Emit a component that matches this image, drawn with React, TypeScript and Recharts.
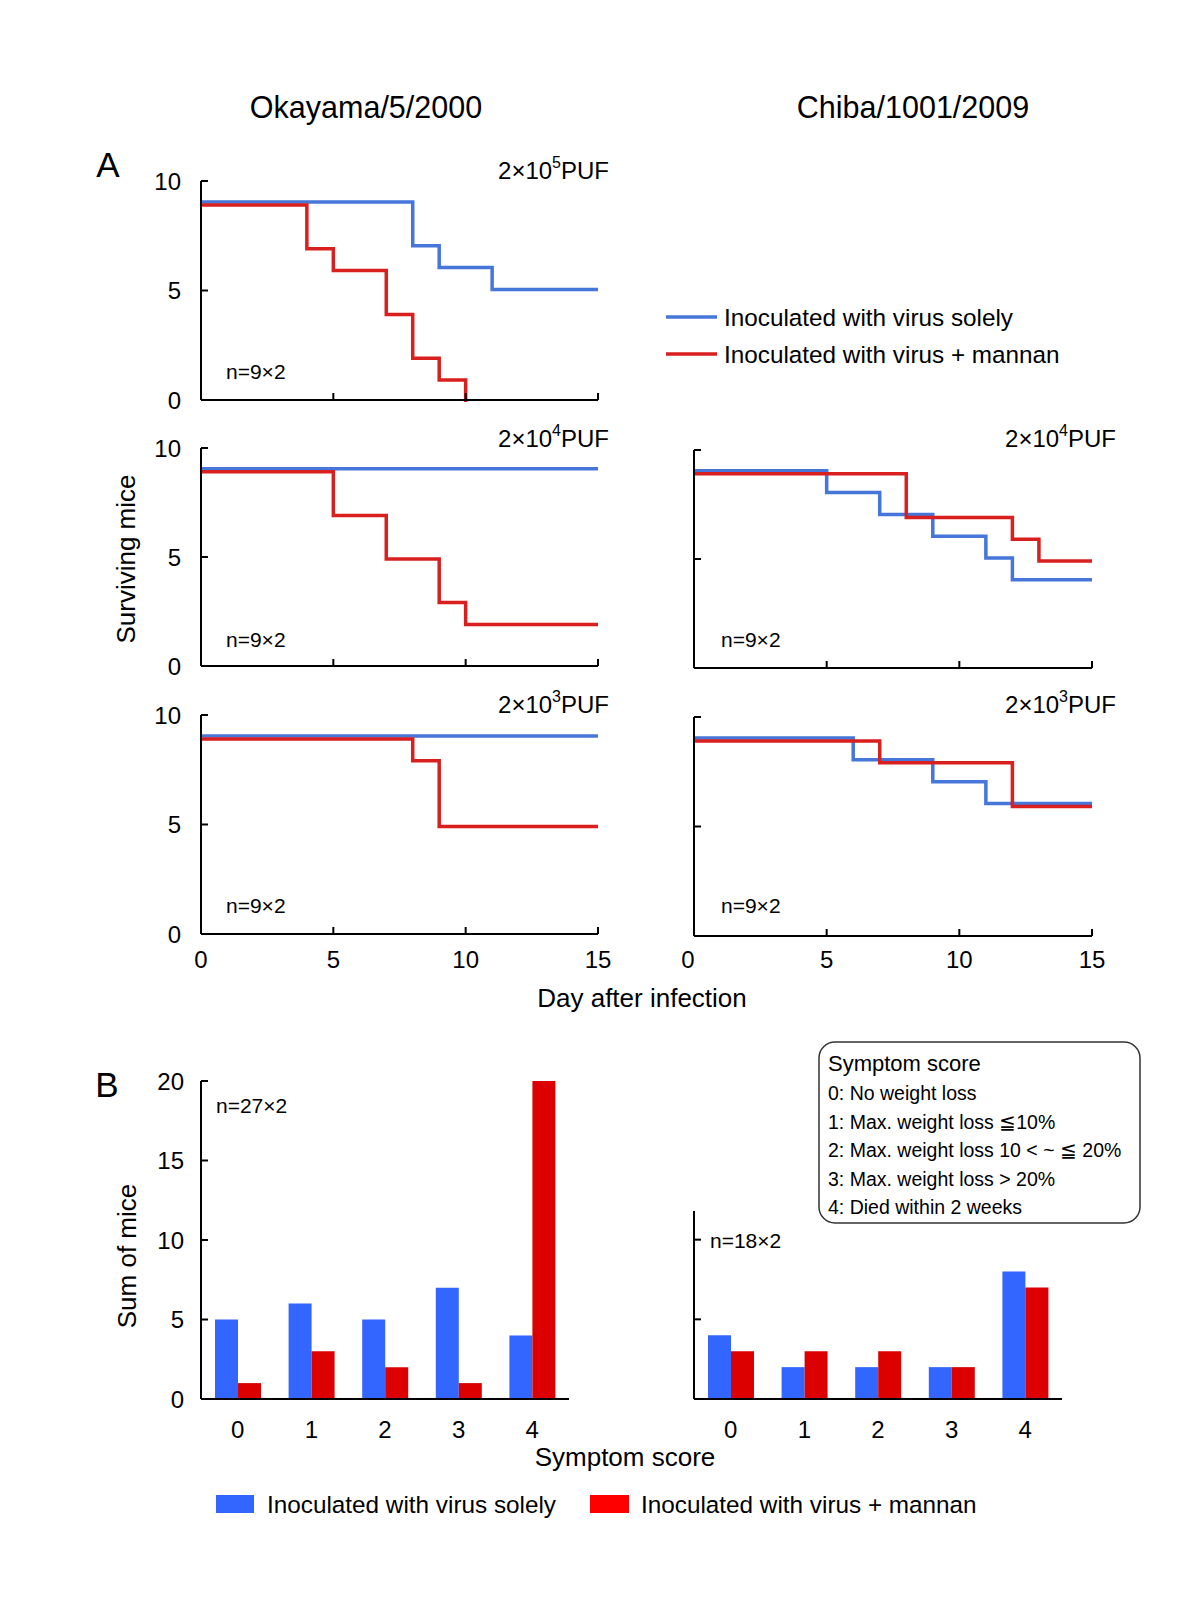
import React from 'react';
import { LineChart, Line, XAxis, YAxis, BarChart, Bar } from 'recharts';

const FONT = '"Liberation Sans", Arial, Helvetica, sans-serif';
const BLUE_LINE = '#4676DA';
const RED_LINE = '#DA1F1F';
const BLUE_BAR = '#3366FF';
const RED_BAR = '#DD0000';
const LEGEND_RED = '#FF0000';

// Day after infection
const days = [0, 1, 2, 3, 4, 5, 6, 7, 8, 9, 10, 11, 12, 13, 14, 15];

// Surviving mice per day — Okayama/5/2000
const okayama5Sole = [9, 9, 9, 9, 9, 9, 9, 9, 7, 6, 6, 5, 5, 5, 5, 5];
const okayama5Mannan = [9, 9, 9, 9, 7, 6, 6, 4, 2, 1, 0, null, null, null, null, null];
const okayama4Sole = [9, 9, 9, 9, 9, 9, 9, 9, 9, 9, 9, 9, 9, 9, 9, 9];
const okayama4Mannan = [9, 9, 9, 9, 9, 7, 7, 5, 5, 3, 2, 2, 2, 2, 2, 2];
const okayama3Sole = [9, 9, 9, 9, 9, 9, 9, 9, 9, 9, 9, 9, 9, 9, 9, 9];
const okayama3Mannan = [9, 9, 9, 9, 9, 9, 9, 9, 8, 5, 5, 5, 5, 5, 5, 5];

// Surviving mice per day — Chiba/1001/2009
const chiba4Sole = [9, 9, 9, 9, 9, 8, 8, 7, 7, 6, 6, 5, 4, 4, 4, 4];
const chiba4Mannan = [9, 9, 9, 9, 9, 9, 9, 9, 7, 7, 7, 7, 6, 5, 5, 5];
const chiba3Sole = [9, 9, 9, 9, 9, 9, 8, 8, 8, 7, 7, 6, 6, 6, 6, 6];
const chiba3Mannan = [9, 9, 9, 9, 9, 9, 9, 8, 8, 8, 8, 8, 6, 6, 6, 6];

// Symptom score bars
const scores = ['0', '1', '2', '3', '4'];
const okayamaSoleBars = [5, 6, 5, 7, 4];
const okayamaMannanBars = [1, 3, 2, 1, 20];
const chibaSoleBars = [4, 2, 2, 2, 8];
const chibaMannanBars = [3, 3, 3, 2, 7];

// Tick values
const dayTicks = [0, 5, 10, 15];
const survivalTicks = [0, 5, 10];
const sumTicksLeft = [0, 5, 10, 15, 20];
const sumTicksRight = [0, 5, 10];

const symptomLegend = [
  '0: No weight loss',
  '1: Max. weight loss \u226610%',
  '2: Max. weight loss 10 < ~ \u2266 20%',
  '3: Max. weight loss > 20%',
  '4: Died within 2 weeks',
];

const XTick = (props: any) => {
  const { x, y, payload, showLabel, zeroDx, tickMark, labelDy } = props;
  const v = payload.value;
  return (
    <g>
      {tickMark && v !== 0 && <line x1={x} x2={x} y1={y} y2={y - 7} stroke="#000" strokeWidth={2} />}
      {showLabel && (
        <text
          x={x + (Number(v) === 0 && zeroDx ? zeroDx : 0)}
          y={y + labelDy}
          textAnchor="middle"
          dominantBaseline="central"
          fontSize={24}
          fontFamily={FONT}
          fill="#000"
        >
          {v}
        </text>
      )}
    </g>
  );
};

const YTick = (props: any) => {
  const { x, y, payload, showLabel, gap } = props;
  return (
    <g>
      <line x1={x} x2={x + 7} y1={y} y2={y} stroke="#000" strokeWidth={2} />
      {showLabel && (
        <text x={x - gap} y={y} textAnchor="end" dominantBaseline="central" fontSize={24} fontFamily={FONT} fill="#000">
          {payload.value}
        </text>
      )}
    </g>
  );
};

type SP = {
  left: number; top: number; w: number; h: number;
  sole: (number | null)[]; mannan: (number | null)[];
  showY: boolean; showX: boolean; zeroDx?: number; labelDy?: number;
};

function SurvivalPanel({ left, top, w, h, sole, mannan, showY, showX, zeroDx, labelDy }: SP) {
  const ML = 70, MT = 12, MB = 50, MR = 20;
  const data = days.map((d, i) => ({ day: d, sole: sole[i], mannan: mannan[i] }));
  const axisLine = { stroke: '#000', strokeWidth: 2 };
  return (
    <div style={{ position: 'absolute', left: left - ML, top: top - MT }}>
      <LineChart width={w + ML + MR} height={h + MT + MB} data={data} margin={{ top: MT, right: MR, bottom: 0, left: 0 }}>
        <XAxis
          dataKey="day" type="number" domain={[0, 15]} ticks={dayTicks} interval={0}
          height={MB} tickSize={0} tickMargin={0} tickLine={false} axisLine={axisLine}
          tick={<XTick showLabel={showX} zeroDx={zeroDx} tickMark={true} labelDy={labelDy ?? 25} />}
        />
        <YAxis
          type="number" domain={[0, 10]} ticks={survivalTicks} interval={0}
          width={ML} tickSize={0} tickMargin={0} tickLine={false} axisLine={axisLine}
          tick={<YTick showLabel={showY} gap={20} />}
        />
        <Line dataKey="sole" type="stepAfter" stroke={BLUE_LINE} strokeWidth={3.5} dot={false} activeDot={false} isAnimationActive={false} className="shift-blue" />
        <Line dataKey="mannan" type="stepAfter" stroke={RED_LINE} strokeWidth={3.5} dot={false} activeDot={false} isAnimationActive={false} className="shift-red" />
      </LineChart>
    </div>
  );
}

type BP = {
  left: number; top: number; w: number; h: number;
  sole: number[]; mannan: number[]; yMax: number; ticks: number[]; showY: boolean;
};

function SymptomBars({ left, top, w, h, sole, mannan, yMax, ticks, showY }: BP) {
  const ML = 70, MT = 12, MB = 50, MR = 20;
  const data = scores.map((s, i) => ({ score: s, sole: sole[i], mannan: mannan[i] }));
  const axisLine = { stroke: '#000', strokeWidth: 2 };
  return (
    <div style={{ position: 'absolute', left: left - ML, top: top - MT }}>
      <BarChart width={w + ML + MR} height={h + MT + MB} data={data} margin={{ top: MT, right: MR, bottom: 0, left: 0 }} barGap={0}>
        <XAxis
          dataKey="score" interval={0} height={MB} tickSize={0} tickMargin={0} tickLine={false} axisLine={axisLine}
          tick={<XTick showLabel={true} tickMark={false} labelDy={30} />}
        />
        <YAxis
          type="number" domain={[0, yMax]} ticks={ticks} interval={0}
          width={ML} tickSize={0} tickMargin={0} tickLine={false} axisLine={axisLine}
          tick={<YTick showLabel={showY} gap={17} />}
        />
        <Bar dataKey="sole" fill={BLUE_BAR} barSize={23} isAnimationActive={false} />
        <Bar dataKey="mannan" fill={RED_BAR} barSize={23} isAnimationActive={false} />
      </BarChart>
    </div>
  );
}

const Sup = ({ x, y, exp, anchor }: { x: number; y: number; exp: string; anchor?: string }) => (
  <text x={x} y={y} textAnchor={anchor || 'end'} dominantBaseline="central" fontSize={24} fontFamily={FONT} fill="#000">
    2×10<tspan fontSize={16} dy={-8}>{exp}</tspan><tspan dy={8}>PUF</tspan>
  </text>
);

const T = ({ x, y, s, size, anchor, rotate }: { x: number; y: number; s: string; size: number; anchor?: string; rotate?: boolean }) => (
  <text
    x={x} y={y} textAnchor={anchor || 'middle'} dominantBaseline="central" fontSize={size} fontFamily={FONT} fill="#000"
    transform={rotate ? `rotate(-90 ${x} ${y})` : undefined}
  >
    {s}
  </text>
);

export default function App() {
  return (
    <div style={{ position: 'absolute', left: 0, top: 0, width: 1200, height: 1600, background: '#fff', fontFamily: FONT }}>
      <style>{`
        .shift-red .recharts-curve { transform: translateY(2px); }
        .shift-blue .recharts-curve { transform: translateY(-1px); }
      `}</style>

      <SurvivalPanel left={201} top={181} w={397} h={219} sole={okayama5Sole} mannan={okayama5Mannan} showY={true} showX={false} />
      <SurvivalPanel left={201} top={448} w={397} h={218} sole={okayama4Sole} mannan={okayama4Mannan} showY={true} showX={false} />
      <SurvivalPanel left={201} top={715} w={397} h={219} sole={okayama3Sole} mannan={okayama3Mannan} showY={true} showX={true} />
      <SurvivalPanel left={694} top={450} w={398} h={218} sole={chiba4Sole} mannan={chiba4Mannan} showY={false} showX={false} />
      <SurvivalPanel left={694} top={717} w={398} h={219} sole={chiba3Sole} mannan={chiba3Mannan} showY={false} showX={true} zeroDx={-6} labelDy={23} />

      <SymptomBars left={201} top={1081} w={368} h={318} sole={okayamaSoleBars} mannan={okayamaMannanBars} yMax={20} ticks={sumTicksLeft} showY={true} />
      <SymptomBars left={694} top={1211} w={368} h={188} sole={chibaSoleBars} mannan={chibaMannanBars} yMax={11.8} ticks={sumTicksRight} showY={false} />

      <svg width={1200} height={1600} style={{ position: 'absolute', left: 0, top: 0, pointerEvents: 'none' }}>
        <T x={366} y={107} s="Okayama/5/2000" size={30.5} />
        <T x={913} y={107} s="Chiba/1001/2009" size={30.5} />
        <T x={108} y={164} s="A" size={35} />
        <T x={107} y={1084} s="B" size={35} />

        <Sup x={609} y={170} exp="5" />
        <Sup x={609} y={438} exp="4" />
        <Sup x={609} y={704} exp="3" />
        <Sup x={1116} y={438} exp="4" />
        <Sup x={1116} y={704} exp="3" />

        <T x={226} y={371} s="n=9×2" size={21} anchor="start" />
        <T x={226} y={639} s="n=9×2" size={21} anchor="start" />
        <T x={226} y={905} s="n=9×2" size={21} anchor="start" />
        <T x={721} y={639} s="n=9×2" size={21} anchor="start" />
        <T x={721} y={905} s="n=9×2" size={21} anchor="start" />
        <T x={216} y={1105} s="n=27×2" size={21} anchor="start" />
        <T x={710} y={1240} s="n=18×2" size={21} anchor="start" />

        <T x={126} y={559} s="Surviving mice" size={26} rotate={true} />
        <T x={642} y={998} s="Day after infection" size={26} />
        <T x={127} y={1256} s="Sum of mice" size={26} rotate={true} />
        <T x={625} y={1457} s="Symptom score" size={26} />

        {/* top line legend */}
        <line x1={666} x2={717} y1={317} y2={317} stroke={BLUE_LINE} strokeWidth={3.5} />
        <T x={724} y={317} s="Inoculated with virus solely" size={24.3} anchor="start" />
        <line x1={666} x2={717} y1={354} y2={354} stroke={RED_LINE} strokeWidth={3.5} />
        <T x={724} y={354} s="Inoculated with virus + mannan" size={24.3} anchor="start" />

        {/* symptom score box */}
        <rect x={819} y={1042} width={321} height={181} rx={16} ry={16} fill="#fff" stroke="#333" strokeWidth={1.5} />
        <T x={828} y={1063} s="Symptom score" size={22} anchor="start" />
        {symptomLegend.map((s, i) => (
          <T key={s} x={828} y={1093 + i * 28.5} s={s} size={19.5} anchor="start" />
        ))}

        {/* bottom bar legend */}
        <rect x={216} y={1495} width={38} height={18} fill={BLUE_BAR} />
        <T x={267} y={1504} s="Inoculated with virus solely" size={24.3} anchor="start" />
        <rect x={590} y={1495} width={39} height={18} fill={LEGEND_RED} />
        <T x={641} y={1504} s="Inoculated with virus + mannan" size={24.3} anchor="start" />
      </svg>
    </div>
  );
}
